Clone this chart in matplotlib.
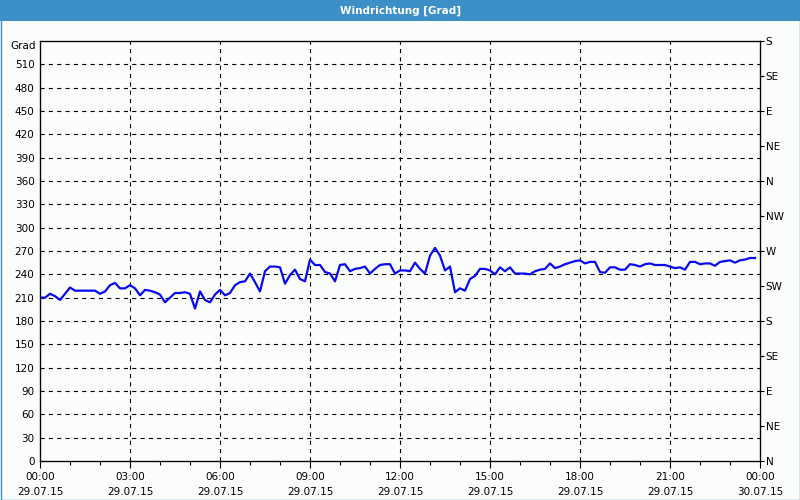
import numpy as np
import matplotlib
matplotlib.use("Agg")
import matplotlib.pyplot as plt
from matplotlib.patches import Rectangle
from matplotlib.ticker import MultipleLocator

# ─── Daten: Windrichtung alle 10 Minuten, 29.07.15 00:00 – 23:50 ─────────────
stunden = np.arange(144) / 6.0
grad = [
    210, 210, 215, 212, 207, 215, 223, 219, 219, 219, 219, 219,
    215, 218, 226, 229, 222, 222, 226, 222, 213, 220, 219, 217,
    214, 204, 210, 216, 216, 217, 215, 196, 218, 207, 204, 214,
    220, 213, 216, 226, 230, 231, 241, 230, 218, 244, 250, 250,
    249, 228, 239, 246, 234, 231, 259, 252, 252, 243, 241, 231,
    252, 253, 244, 247, 248, 250, 241, 247, 252, 253, 253, 241,
    245, 245, 244, 255, 247, 241, 264, 274, 264, 245, 250, 217,
    222, 219, 234, 238, 247, 247, 245, 240, 249, 244, 249, 241,
    241, 241, 240, 244, 246, 247, 254, 248, 250, 253, 255, 257,
    258, 254, 256, 256, 243, 242, 249, 249, 246, 246, 253, 252,
    250, 253, 254, 252, 252, 252, 250, 248, 249, 246, 256, 256,
    253, 254, 254, 251, 256, 257, 258, 255, 258, 259, 261, 261,
]

y_ticks = list(range(0, 511, 30))
y_labels = [str(v) for v in y_ticks]
einheit = "Grad"
richtung_ticks = list(range(0, 541, 45))
richtung_labels = ["N", "NE", "E", "SE", "S", "SW", "W", "NW", "N", "NE", "E", "SE", "S"]
x_ticks = list(range(0, 25, 3))
x_labels = ["00:00\n29.07.15", "03:00\n29.07.15", "06:00\n29.07.15",
            "09:00\n29.07.15", "12:00\n29.07.15", "15:00\n29.07.15",
            "18:00\n29.07.15", "21:00\n29.07.15", "00:00\n30.07.15"]

BG = "#fbfdfb"
BLAU = "#3c8fc7"
plt.rcParams["font.family"] = ["DejaVu Sans"]
plt.rcParams["font.size"] = 7.5
plt.rcParams["lines.scale_dashes"] = False

fig = plt.figure(figsize=(8, 5), dpi=100, facecolor=BG)

# Titelleiste + Rahmen
fig.patches.append(Rectangle((0, 1 - 21 / 500), 1, 21 / 500, transform=fig.transFigure,
                             facecolor=BLAU, edgecolor="none", zorder=0))
fig.patches.append(Rectangle((0.5 / 800, 0.5 / 500), 1 - 1 / 800, 1 - 1 / 500,
                             transform=fig.transFigure, facecolor="none",
                             edgecolor=BLAU, linewidth=1.0, zorder=0))
fig.text(0.5, 1 - 10.5 / 500, "Windrichtung [Grad]", color="white", fontweight="bold",
         ha="center", va="center", fontsize=7.5)

ax = fig.add_axes([40 / 800, 1 - 461 / 500, 720 / 800, 420 / 500])
ax.set_facecolor(BG)
ax.plot(stunden, grad, color="#0a0af0", linewidth=1.6, zorder=3)

ax.set_xlim(0, 24)
ax.set_ylim(0, 540)
ax.set_yticks(y_ticks)
ax.set_yticklabels(y_labels)
ax.set_xticks(x_ticks)
ax.set_xticklabels(x_labels, linespacing=1.6)
ax.xaxis.set_minor_locator(MultipleLocator(1))
ax.tick_params(axis="y", length=0, pad=4)
ax.tick_params(axis="x", which="major", length=5, width=0.8, pad=3)
ax.tick_params(axis="x", which="minor", length=3, width=0.8)

# Einheit oben links, etwas unter der Oberkante
fig.text(36 / 800, 1 - 46 / 500, einheit, ha="right", va="center")

for v in y_ticks[1:]:
    ax.axhline(v, color="black", linewidth=0.8, linestyle=(0, (3, 3)), zorder=1)
for h in x_ticks[1:-1]:
    ax.axvline(h, color="black", linewidth=0.8, linestyle=(0, (3, 3)), zorder=1)

for s in ax.spines.values():
    s.set_linewidth(0.9)

ax2 = ax.twinx()
ax2.set_ylim(0, 540)
ax2.set_yticks(richtung_ticks)
ax2.set_yticklabels(richtung_labels)
ax2.tick_params(axis="y", length=3, width=0.8, pad=1)

fig.savefig("out.png", dpi=100, facecolor=BG)
